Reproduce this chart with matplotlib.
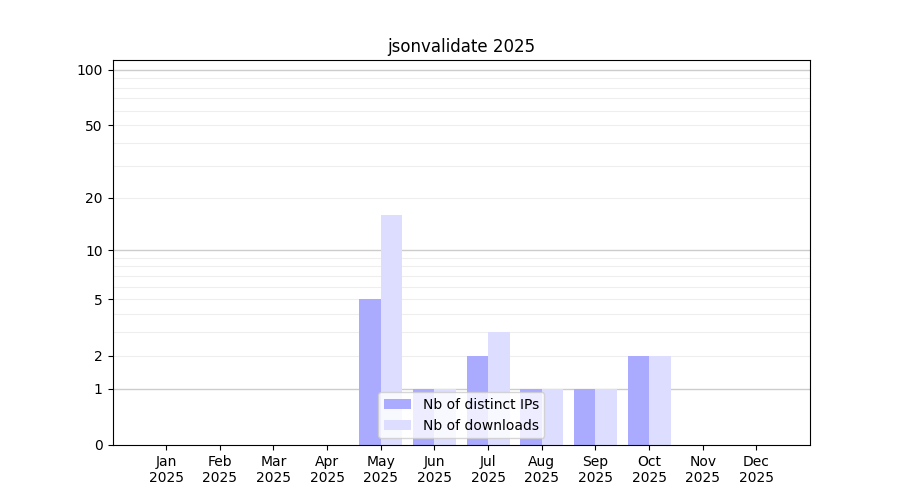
import matplotlib
matplotlib.use("Agg")
import matplotlib.pyplot as plt
import numpy as np

months = ["Jan", "Feb", "Mar", "Apr", "May", "Jun", "Jul", "Aug", "Sep", "Oct", "Nov", "Dec"]
year = "2025"
distinct_ips = [0, 0, 0, 0, 5, 1, 2, 1, 1, 2, 0, 0]
downloads = [0, 0, 0, 0, 16, 1, 3, 1, 1, 2, 0, 0]
ytick_values = [0, 1, 2, 5, 10, 20, 50, 100]
major_grid = [1, 10, 100]
minor_grid = [2, 3, 4, 5, 6, 7, 8, 9, 20, 30, 40, 50, 60, 70, 80, 90]

fig, ax = plt.subplots(figsize=(9, 5), dpi=100)

x = np.arange(len(months))
w = 0.4
ax.bar(x - w / 2, distinct_ips, w, color="#aaaaff", label="Nb of distinct IPs")
ax.bar(x + w / 2, downloads, w, color="#ddddff", label="Nb of downloads")

ax.set_yscale("function", functions=(lambda y: np.log10(1 + np.maximum(y, 0)),
                                     lambda y: 10 ** y - 1))
ax.set_ylim(0, 113)
ax.set_xlim(-1, 12)

for g in minor_grid:
    ax.axhline(g, color="#eeeeee", lw=0.8, zorder=0)
for g in major_grid:
    ax.axhline(g, color="#cccccc", lw=1.0, zorder=0)

ax.set_yticks(ytick_values)
ax.set_yticklabels([str(v) for v in ytick_values])
ax.minorticks_off()
ax.set_xticks(x)
ax.set_xticklabels([m + "\n" + year for m in months])

ax.set_title("jsonvalidate 2025")
ax.legend(loc="lower center")

plt.savefig("out.png")
